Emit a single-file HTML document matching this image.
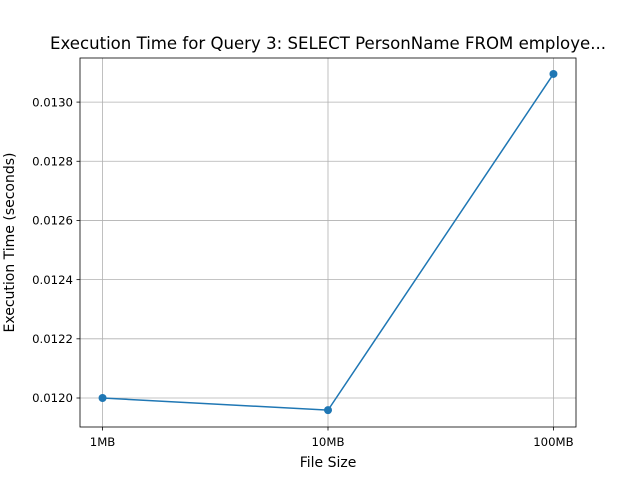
<!DOCTYPE html>
<html><head><meta charset="utf-8"><style>
html,body{margin:0;padding:0;background:#fff;}
svg text{font-family:"DejaVu Sans","Liberation Sans",sans-serif;fill:#000;}
</style></head><body>
<svg id="chart" width="640" height="480" xmlns="http://www.w3.org/2000/svg">
<rect width="640" height="480" fill="#fff"/>
<text x="328" y="49" font-size="16.6" text-anchor="middle" textLength="556" lengthAdjust="spacingAndGlyphs">Execution Time for Query 3: SELECT PersonName FROM employe...</text>
<g id="grid"></g>
<g id="ticks"></g>
<g id="series"></g>
<rect x="80" y="58" width="496" height="369" fill="none" stroke="#000" stroke-width="0.8"/>
<text x="328" y="467" font-size="14" text-anchor="middle">File Size</text>
<text transform="translate(14,242.5) rotate(-90)" font-size="14" text-anchor="middle">Execution Time (seconds)</text>
</svg>
<script>
const categories = ["1MB","10MB","100MB"];
const times = [0.01200, 0.011959, 0.013095];
const yTicks = [0.0120,0.0122,0.0124,0.0126,0.0128,0.0130];
const yTickLabels = ["0.0120","0.0122","0.0124","0.0126","0.0128","0.0130"];

const L=80,R=576,T=58,B=427;
const yMin=0.011902,yMax=0.013149;
const xs=i=>L+(i+0.1)/2.2*(R-L);
const ys=v=>B-(v-yMin)/(yMax-yMin)*(B-T);
const NS="http://www.w3.org/2000/svg";
function mk(tag,attrs,parent){const e=document.createElementNS(NS,tag);for(const k in attrs)e.setAttribute(k,attrs[k]);parent.appendChild(e);return e;}
const grid=document.getElementById('grid'),ticks=document.getElementById('ticks'),series=document.getElementById('series');

categories.forEach((c,i)=>{
  const x=xs(i);
  const g=mk('line',{x1:x,x2:x,y1:T,y2:B,stroke:'#b0b0b0','stroke-width':0.8},grid);
  
  
  const t=mk('line',{x1:x,x2:x,y1:B,y2:B+3.5,stroke:'#000','stroke-width':0.8},ticks);
  
  
  const l=mk('text',{x:x,y:B+19,'font-size':11.7,'text-anchor':'middle'},ticks);
  l.textContent=c;
  
  
});
yTicks.forEach((v,i)=>{
  const y=ys(v);
  const g=mk('line',{x1:L,x2:R,y1:y,y2:y,stroke:'#b0b0b0','stroke-width':0.8},grid);
  
  
  const t=mk('line',{x1:L-3.5,x2:L,y1:y,y2:y,stroke:'#000','stroke-width':0.8},ticks);
  
  
  const l=mk('text',{x:L-7,y:y+4.2,'font-size':11.7,'text-anchor':'end'},ticks);
  l.textContent=yTickLabels[i];
  
  
});
const pts=times.map((v,i)=>xs(i)+','+ys(v)).join(' ');
const line=mk('polyline',{points:pts,fill:'none',stroke:'#1f77b4','stroke-width':1.5},series);


times.forEach((v,i)=>{
  const c=mk('circle',{cx:xs(i),cy:ys(v),r:4,fill:'#1f77b4'},series);
  
  
});
</script>
</body></html>
